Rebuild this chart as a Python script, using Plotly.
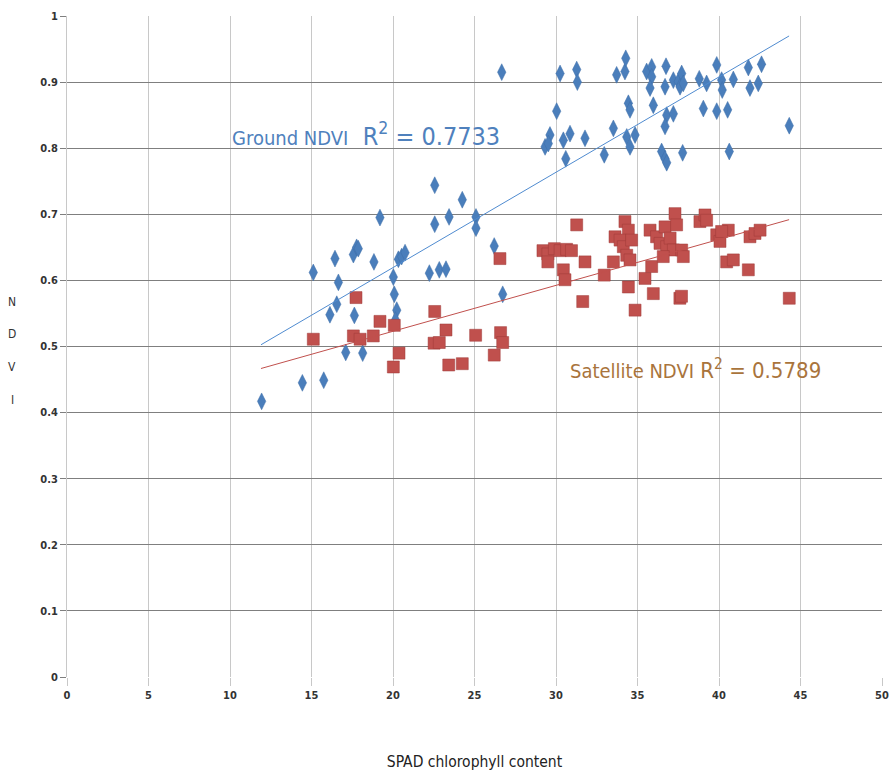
import plotly.graph_objects as go

# SPAD readings and ground-measured NDVI
ground_spad = [11.94, 14.44, 15.75, 15.11, 16.44, 16.65, 16.55, 16.13, 17.1, 18.14, 17.63,
               17.57, 17.77, 17.87, 18.83, 19.2, 20.02, 20.08, 20.23, 20.15, 20.33, 20.53,
               20.74, 22.23, 22.84, 23.25, 22.56, 22.56, 23.44, 24.25, 25.09, 25.09, 26.21,
               26.73, 26.67, 30.25, 31.27, 31.31, 30.04, 29.63, 29.33, 29.53, 30.45, 30.86,
               30.6, 31.78, 32.96, 33.52, 33.72, 34.23, 34.28, 34.44, 34.54, 34.34, 34.85,
               34.54, 35.56, 35.87, 35.87, 35.77, 35.97, 36.75, 36.69, 37.2, 37.5, 37.71,
               37.61, 37.81, 36.79, 37.2, 36.69, 36.48, 36.69, 36.79, 37.77, 38.79, 39.24,
               39.04, 39.86, 40.16, 40.2, 39.86, 40.53, 40.88, 40.63, 41.8, 41.9, 42.41,
               42.61, 44.31]
ground_ndvi = [0.417, 0.445, 0.449, 0.612, 0.633, 0.597, 0.564, 0.548, 0.491, 0.490, 0.547,
               0.639, 0.650, 0.648, 0.628, 0.695, 0.605, 0.579, 0.555, 0.540, 0.632, 0.636,
               0.642, 0.611, 0.616, 0.617, 0.744, 0.685, 0.696, 0.722, 0.696, 0.679, 0.652,
               0.579, 0.915, 0.913, 0.919, 0.900, 0.856, 0.820, 0.802, 0.807, 0.812, 0.822,
               0.784, 0.815, 0.790, 0.830, 0.911, 0.916, 0.936, 0.868, 0.858, 0.817, 0.820,
               0.802, 0.916, 0.923, 0.908, 0.891, 0.865, 0.924, 0.893, 0.903, 0.901, 0.913,
               0.893, 0.898, 0.850, 0.852, 0.833, 0.795, 0.784, 0.778, 0.793, 0.905, 0.898,
               0.860, 0.926, 0.903, 0.888, 0.856, 0.858, 0.904, 0.795, 0.922, 0.891, 0.898,
               0.927, 0.834]

# SPAD readings and satellite-derived NDVI
sat_spad = [15.11, 17.73, 17.57, 17.98, 18.79, 19.2, 20.08, 20.37, 20.02, 22.56, 22.52,
            22.84, 23.25, 23.42, 24.25, 25.07, 26.21, 26.6, 26.73, 26.56, 31.27, 29.2,
            29.5, 29.9, 30.25, 30.65, 30.95, 29.5, 30.45, 30.55, 31.78, 31.64, 32.96,
            33.52, 34.23, 34.44, 33.62, 33.93, 34.13, 34.64, 34.34, 34.54, 34.44, 34.85,
            35.46, 35.87, 35.97, 35.77, 36.17, 36.38, 36.69, 36.79, 37.0, 37.3, 37.4,
            37.2, 37.71, 37.81, 36.58, 37.6, 37.7, 38.83, 39.14, 39.24, 39.86, 40.06,
            40.57, 40.16, 40.47, 40.88, 41.8, 41.9, 42.21, 42.52, 44.31]
sat_ndvi = [0.511, 0.574, 0.516, 0.511, 0.516, 0.538, 0.532, 0.490, 0.469, 0.553, 0.505,
            0.506, 0.525, 0.472, 0.474, 0.517, 0.487, 0.521, 0.506, 0.633, 0.684, 0.645,
            0.640, 0.648, 0.645, 0.647, 0.645, 0.628, 0.616, 0.601, 0.628, 0.568, 0.608,
            0.628, 0.689, 0.676, 0.666, 0.661, 0.651, 0.661, 0.638, 0.631, 0.590, 0.555,
            0.603, 0.621, 0.580, 0.676, 0.666, 0.656, 0.681, 0.651, 0.664, 0.701, 0.684,
            0.646, 0.646, 0.636, 0.636, 0.573, 0.576, 0.689, 0.699, 0.691, 0.669, 0.659,
            0.676, 0.674, 0.628, 0.631, 0.616, 0.666, 0.671, 0.676, 0.573]

# Linear trend lines (slope, intercept) and their SPAD range
trend_range = [11.9, 44.3]
ground_fit = (0.01442, 0.331)
sat_fit = (0.00695, 0.384)

x_ticks = [0, 5, 10, 15, 20, 25, 30, 35, 40, 45, 50]
y_ticks = [0, 0.1, 0.2, 0.3, 0.4, 0.5, 0.6, 0.7, 0.8, 0.9, 1]
y_tick_text = ["0", "0.1", "0.2", "0.3", "0.4", "0.5", "0.6", "0.7", "0.8", "0.9", "1"]
y_title_letters = ["N", "D", "V", "I"]

BLUE = "#4A7EBB"
RED = "#C0504D"
FONT = "DejaVu Sans Condensed, Liberation Sans Narrow, Roboto, sans-serif"
TICK_FONT = dict(family="DejaVu Sans Condensed, Roboto, sans-serif", size=11,
                 color="#333333", weight="bold")

fig = go.Figure()

fig.add_trace(go.Scatter(
    x=ground_spad, y=ground_ndvi, mode="markers", name="Ground NDVI",
    marker=dict(symbol="diamond-tall", size=12, color=BLUE,
                line=dict(color="#3F6FA8", width=0.5)),
))
fig.add_trace(go.Scatter(
    x=sat_spad, y=sat_ndvi, mode="markers", name="Satellite NDVI",
    marker=dict(symbol="square", size=12, color=RED,
                line=dict(color="#9E3B38", width=0.5)),
))

fig.add_trace(go.Scatter(
    x=trend_range, y=[ground_fit[0] * v + ground_fit[1] for v in trend_range],
    mode="lines", line=dict(color="#4F8BD0", width=1), hoverinfo="skip",
))
fig.add_trace(go.Scatter(
    x=trend_range, y=[sat_fit[0] * v + sat_fit[1] for v in trend_range],
    mode="lines", line=dict(color="#C0504D", width=1), hoverinfo="skip",
))

fig.update_layout(
    width=893, height=775,
    margin=dict(l=67, r=11, t=16, b=98),
    paper_bgcolor="white", plot_bgcolor="white",
    showlegend=False,
    font=dict(family=FONT, color="#333333"),
    xaxis=dict(
        range=[0, 50], tickvals=x_ticks, ticktext=[str(v) for v in x_ticks],
        showgrid=True, gridcolor="#C8C8C8", gridwidth=1,
        zeroline=False, showline=False, automargin=False,
        ticks="outside", ticklen=8, tickcolor="#C8C8C8",
        tickfont=TICK_FONT,
        title=dict(text="SPAD chlorophyll content",
                   font=dict(family=FONT, size=15.5, color="#222222"), standoff=54),
    ),
    yaxis=dict(
        range=[0, 1], tickvals=y_ticks, ticktext=y_tick_text,
        showgrid=True, gridcolor="#7F7F7F", gridwidth=1,
        zeroline=False, showline=True, linecolor="#C8C8C8", linewidth=1,
        automargin=False,
        ticks="outside", ticklen=6, tickcolor="#7F7F7F",
        tickfont=TICK_FONT,
    ),
)

# Vertical "NDVI" title, one letter per line
for i, letter in enumerate(y_title_letters):
    fig.add_annotation(
        xref="paper", yref="paper", x=-0.067, y=0.568 - i * 0.0495,
        xanchor="center", yanchor="middle", text=letter, showarrow=False,
        font=dict(family=FONT, size=12, color="#333333"),
    )

fig.add_annotation(
    x=10.0, y=0.82, xanchor="left", yanchor="middle", showarrow=False,
    text="<span style='font-size:20px'>Ground NDVI</span>  R<sup>2</sup> = 0.7733",
    font=dict(family=FONT, size=25, color="#4F81BD"),
)
fig.add_annotation(
    x=30.75, y=0.466, xanchor="left", yanchor="middle", showarrow=False,
    text="<span style='font-size:20px'>Satellite NDVI</span> R<sup>2</sup> = 0.5789",
    font=dict(family=FONT, size=22, color="#A9743C"),
)

fig.write_html("out.html")
